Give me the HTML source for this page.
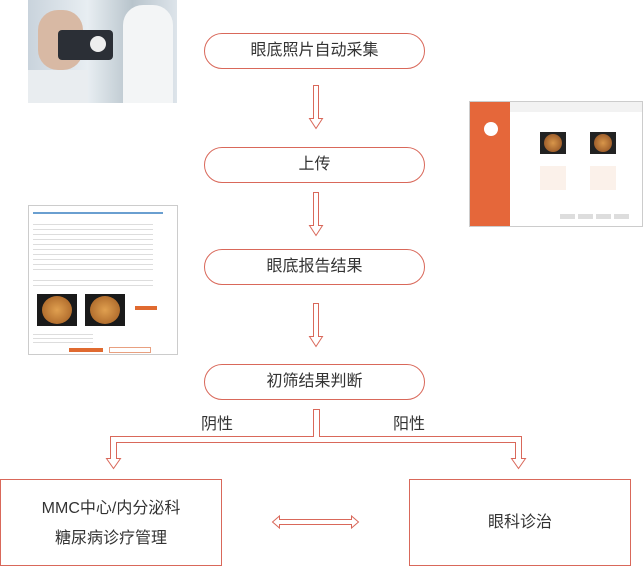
<!DOCTYPE html>
<html><head><meta charset="utf-8"><style>
body{margin:0;width:644px;height:565px;background:#fff;position:relative;overflow:hidden;font-family:"Liberation Sans","Noto Sans CJK SC",sans-serif;color:#333}
.pill{position:absolute;left:204px;width:219px;height:34px;border:1px solid #d9685a;border-radius:18px;text-align:center;line-height:34px;font-size:16px;box-sizing:content-box}
.box{position:absolute;top:479px;width:220px;height:85px;border:1px solid #d9685a;text-align:center;font-size:16px}
.lbl{position:absolute;font-size:16px}
</style></head><body>
<div style="position:absolute;left:28px;top:0;width:149px;height:103px;background:linear-gradient(90deg,#c9d3dc 0%,#e8eef2 40%,#b8c4cc 70%,#dde4ea 100%)">
 <div style="position:absolute;left:10px;top:10px;width:45px;height:60px;border-radius:20px;background:#d8b9a4"></div>
 <div style="position:absolute;left:30px;top:30px;width:55px;height:30px;background:#2b2f36;border-radius:4px"></div>
 <div style="position:absolute;left:62px;top:36px;width:16px;height:16px;background:#eee;border-radius:50%"></div>
 <div style="position:absolute;left:95px;top:5px;width:50px;height:98px;background:#f3f5f6;border-radius:20px 20px 0 0"></div>
 <div style="position:absolute;left:0;top:70px;width:60px;height:33px;background:#e9edf0"></div>
</div>
<div style="position:absolute;left:28px;top:205px;width:148px;height:148px;background:#fff;border:1px solid #ccc">
 <div style="position:absolute;left:4px;top:6px;width:130px;height:2px;background:#6a9fd0"></div>
 <div style="position:absolute;left:4px;top:14px;width:120px;height:50px;background:repeating-linear-gradient(#fff 0 4px,#ddd 4px 5px)"></div>
 <div style="position:absolute;left:4px;top:70px;width:120px;height:12px;background:repeating-linear-gradient(#fff 0 4px,#ddd 4px 5px)"></div>
 <div style="position:absolute;left:8px;top:88px;width:40px;height:32px;background:#1a1a1a"><div style="margin:2px auto;width:30px;height:28px;border-radius:50%;background:radial-gradient(#e0a050,#a05a20)"></div></div>
 <div style="position:absolute;left:56px;top:88px;width:40px;height:32px;background:#1a1a1a"><div style="margin:2px auto;width:30px;height:28px;border-radius:50%;background:radial-gradient(#e0a050,#a05a20)"></div></div>
 <div style="position:absolute;left:106px;top:100px;width:22px;height:4px;background:#e06a30"></div>
 <div style="position:absolute;left:4px;top:125px;width:60px;height:14px;background:repeating-linear-gradient(#fff 0 3px,#ddd 3px 4px)"></div>
 <div style="position:absolute;left:40px;top:142px;width:34px;height:4px;background:#e06a30"></div>
 <div style="position:absolute;left:80px;top:141px;width:40px;height:4px;border:1px solid #e8a080"></div>
</div>
<div style="position:absolute;left:469px;top:101px;width:172px;height:124px;background:#fff;border:1px solid #ccc">
 <div style="position:absolute;left:0;top:0;width:40px;height:124px;background:#e5673a"></div>
 <div style="position:absolute;left:14px;top:20px;width:14px;height:14px;border-radius:50%;background:#fff"></div>
 <div style="position:absolute;left:40px;top:0;width:132px;height:10px;background:#f2f2f2"></div>
 <div style="position:absolute;left:70px;top:30px;width:26px;height:22px;background:#222"><div style="margin:2px auto;width:18px;height:18px;border-radius:50%;background:radial-gradient(#d8964a,#8a4a20)"></div></div>
 <div style="position:absolute;left:120px;top:30px;width:26px;height:22px;background:#222"><div style="margin:2px auto;width:18px;height:18px;border-radius:50%;background:radial-gradient(#d8964a,#8a4a20)"></div></div>
 <div style="position:absolute;left:70px;top:64px;width:26px;height:24px;background:#fbf1ea"></div>
 <div style="position:absolute;left:120px;top:64px;width:26px;height:24px;background:#fbf1ea"></div>
 <div style="position:absolute;left:90px;top:112px;width:70px;height:5px;background:repeating-linear-gradient(90deg,#ddd 0 15px,#fff 15px 18px)"></div>
</div>
<div class="pill" style="top:33px">眼底照片自动采集</div>
<div class="pill" style="top:147px">上传</div>
<div class="pill" style="top:249px">眼底报告结果</div>
<div class="pill" style="top:364px">初筛结果判断</div>
<svg width="644" height="565" style="position:absolute;left:0;top:0" fill="#fff" stroke="#d9685a" stroke-width="1">
 <path d="M313.5 85.5h5v33h4l-6.5 10-6.5-10h4z"/>
 <path d="M313.5 192.5h5v33h4l-6.5 10-6.5-10h4z"/>
 <path d="M313.5 303.5h5v33h4l-6.5 10-6.5-10h4z"/>
 <path d="M313.5 409.5H319.5V436.5H521.5V458.5h4l-7 10-7-10h4V442.5H116.5V458.5h4l-7 10-7-10h4V436.5H313.5Z"/>
 <path d="M272.5 522l7-6v3.5h72v-3.5l7 6-7 6v-3.5h-72v3.5z"/>
</svg>
<div class="lbl" style="left:201px;top:410px">阴性</div>
<div class="lbl" style="left:393px;top:410px">阳性</div>
<div class="box" style="left:0"><div style="margin-top:14px;line-height:30px">MMC中心/内分泌科<br>糖尿病诊疗管理</div></div>
<div class="box" style="left:409px;line-height:85px">眼科诊治</div>
</body></html>
